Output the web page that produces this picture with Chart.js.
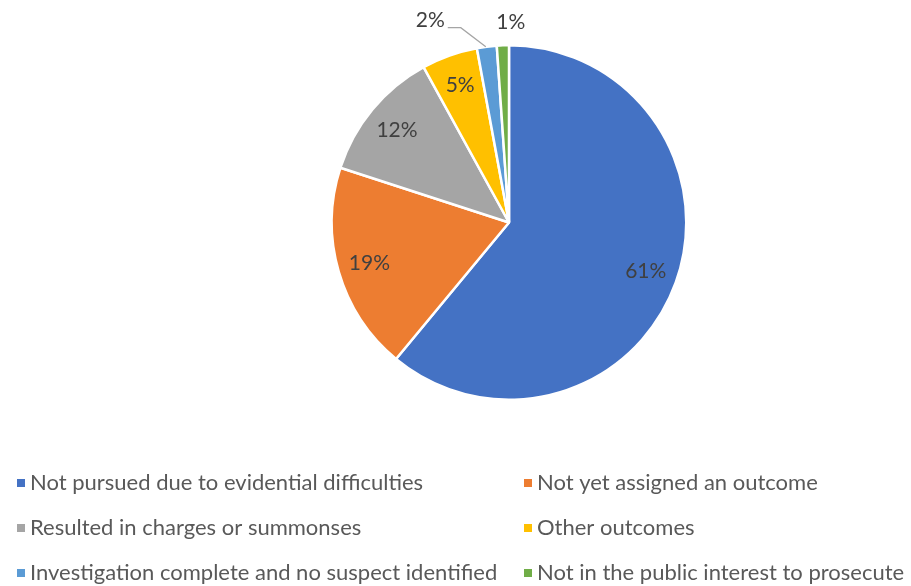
<!DOCTYPE html>
<html>
<head>
<meta charset="utf-8">
<script src="https://cdn.jsdelivr.net/npm/chart.js@4.4.1/dist/chart.umd.min.js"></script>
<style>
  html, body { margin: 0; padding: 0; background: #fff; }
  #wrap { width: 911px; height: 586px; position: relative; }
</style>
</head>
<body>
<div id="wrap"><canvas id="grafico"></canvas></div>
<script>
const categorias = [
    'Not pursued due to evidential difficulties',
    'Not yet assigned an outcome',
    'Resulted in charges or summonses',
    'Other outcomes',
    'Investigation complete and no suspect identified',
    'Not in the public interest to prosecute'
];
const valores = [61.0, 19.0, 12.0, 5.1, 1.8, 1.1];
const colores = ['#4472C4', '#ED7D31', '#A5A5A5', '#FFC000', '#5B9BD5', '#70AD47'];

const fuente = 'Lato, "Open Sans", sans-serif';

// etiquetas de porcentaje sobre cada porcion
const etiquetasPlugin = {
    id: 'etiquetas',
    afterDatasetsDraw(chart) {
        const ctx = chart.ctx;
        const arcos = chart.getDatasetMeta(0).data;
        ctx.save();
        ctx.font = '21px ' + fuente;
        ctx.fillStyle = '#404040';
        ctx.textBaseline = 'middle';
        arcos.forEach((arco, i) => {
            const texto = Math.round(valores[i]) + '%';
            const medio = (arco.startAngle + arco.endAngle) / 2;
            const r = arco.outerRadius;
            if (valores[i] >= 3) {
                ctx.textAlign = 'center';
                ctx.fillText(texto, arco.x + Math.cos(medio) * r * 0.82, arco.y + Math.sin(medio) * r * 0.82);
            } else if (i === 4) {
                // etiqueta fuera con linea guia
                const px = arco.x + Math.cos(medio) * r;
                const py = arco.y + Math.sin(medio) * r;
                ctx.strokeStyle = '#A5A5A5';
                ctx.lineWidth = 1.3;
                ctx.beginPath();
                ctx.moveTo(px - 1, py);
                ctx.lineTo(px - 26, py - 19);
                ctx.lineTo(px - 39, py - 19);
                ctx.stroke();
                ctx.textAlign = 'right';
                ctx.fillText(texto, px - 42, py - 26);
            } else {
                ctx.textAlign = 'center';
                ctx.fillText(texto, arco.x + Math.cos(medio) * r + 8, arco.y + Math.sin(medio) * r - 23);
            }
        });
        ctx.restore();
    }
};

// leyenda en dos columnas
const leyendaPlugin = {
    id: 'leyenda2col',
    afterDraw(chart) {
        const ctx = chart.ctx;
        ctx.save();
        ctx.font = '22px ' + fuente;
        ctx.textBaseline = 'middle';
        ctx.textAlign = 'left';
        const columnas = [17, 524];
        const filas = [483, 528, 573];
        categorias.forEach((cat, i) => {
            const x = columnas[i % 2];
            const y = filas[Math.floor(i / 2)];
            ctx.fillStyle = colores[i];
            ctx.fillRect(x, y - 4, 8, 8);
            ctx.fillStyle = '#595959';
            ctx.fillText(cat, x + 13, y);
        });
        ctx.restore();
    }
};

new Chart(document.getElementById('grafico'), {
    type: 'pie',
    data: {
        labels: categorias,
        datasets: [{
            data: valores,
            backgroundColor: colores,
            borderColor: '#ffffff',
            borderWidth: 2.5
        }]
    },
    options: {
        responsive: true,
        maintainAspectRatio: false,
        animation: false,
        layout: { padding: { top: 44, bottom: 185, left: 107, right: 0 } },
        plugins: {
            legend: { display: false },
            tooltip: { enabled: false }
        }
    },
    plugins: [etiquetasPlugin, leyendaPlugin]
});
</script>
</body>
</html>
